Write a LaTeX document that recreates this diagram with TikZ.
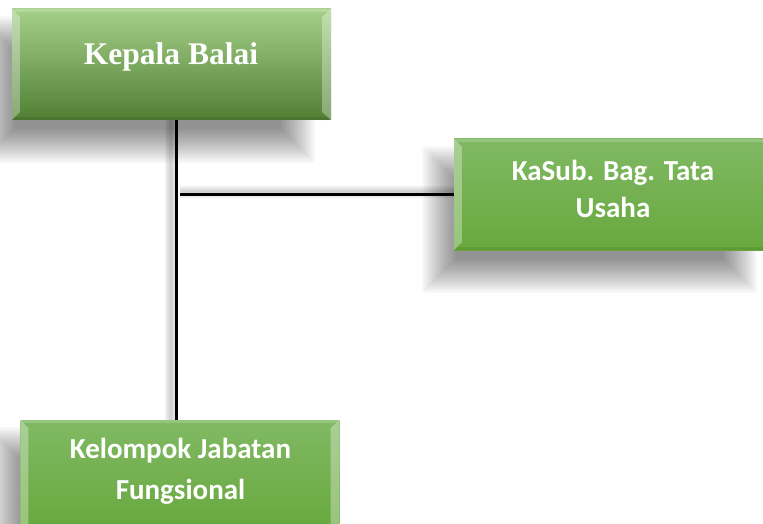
\documentclass[tikz,border=0pt]{standalone}
\usepackage{fontspec}
\setmainfont{Liberation Serif}
\newfontfamily\calib{Carlito}
\usetikzlibrary{backgrounds}
\definecolor{gA}{RGB}{166,208,138}
\definecolor{gB}{RGB}{116,175,74}
\definecolor{gC}{RGB}{80,127,52}
\definecolor{gD}{RGB}{128,185,100}
\definecolor{gE}{RGB}{104,168,61}
\newcommand\bevelbox[1]{%
  \fill[white,opacity=.32] (#1.north west) -- ([shift={(8,8)}]#1.north west) -- ([shift={(8,-8)}]#1.south west) -- (#1.south west) -- cycle;
  \fill[white,opacity=.32] (#1.north east) -- ([shift={(-9,8)}]#1.north east) -- ([shift={(-9,-8)}]#1.south east) -- (#1.south east) -- cycle;
  \fill[white,opacity=.18] (#1.north west) -- (#1.north east) -- ([shift={(-3,3)}]#1.north east) -- ([shift={(3,3)}]#1.north west) -- cycle;
  \fill[black,opacity=.08] (#1.south west) -- (#1.south east) -- ([shift={(-3,-3)}]#1.south east) -- ([shift={(3,-3)}]#1.south west) -- cycle;
}
\newcommand\boxshadow[1]{%
  \foreach \k in {0,...,17}{%
    \fill[black,opacity=.027]
      ([shift={(-14-18+2*\k, 25-18+2*\k)}]#1.north west) rectangle
      ([shift={(-34+18-2*\k, 25+18-2*\k)}]#1.south east);
  }%
}
\begin{document}
\begin{tikzpicture}[x=1pt,y=-1pt]
\tikzset{
  box/.style={rectangle, inner sep=0pt, minimum width=319pt, minimum height=111pt},
  topbox/.style={box, top color=gA, middle color=gB, bottom color=gC},
  subbox/.style={box, top color=gD, bottom color=gE},
  boxtext/.style={text=white, align=center},
  conn/.style={line width=3pt, black},
  connshadow/.style={black, opacity=0.06},
}
\useasboundingbox (0,0) rectangle (763,524);

\node[topbox] (kb) at (171.5,64.5) {};
\node[subbox] (ks) at (613.5,194.5) {};
\node[subbox] (kf) at (180,475.5) {};

\begin{pgfonlayer}{background}
  \fill[white] (0,0) rectangle (763,524);
  \boxshadow{kb}
  \boxshadow{ks}
  \boxshadow{kf}
\end{pgfonlayer}

\bevelbox{kb}
\bevelbox{ks}
\bevelbox{kf}

% connectors
\coordinate (vtop) at ([xshift=4.5pt]kb.south);
\coordinate (hj) at (180,194.5);
\begin{pgfonlayer}{background}
\foreach \s in {4,8,12}{
  \draw[connshadow, line width=\s pt] ([xshift=-5pt]vtop) -- ([xshift=-5pt]vtop |- kf.north);
  \draw[connshadow, line width=\s pt] ([yshift=3pt]hj) -- ([yshift=3pt]ks.west);
}
\end{pgfonlayer}
\draw[conn] (vtop) -- (vtop |- kf.north);
\draw[conn] (hj) -- (ks.west);

\node[boxtext, anchor=base, font=\bfseries\fontsize{31.5}{38}\selectfont] (t1) at (171,65) {Kepala Balai};
\node[boxtext, font=\calib\bfseries\fontsize{29}{37.4}\selectfont] (t2) at (613,189) {KaSub. Bag. Tata\\Usaha};
\node[boxtext, font=\calib\bfseries\fontsize{29}{41}\selectfont] (t3) at (180.5,471) {Kelompok Jabatan\\Fungsional};
\end{tikzpicture}
\end{document}
